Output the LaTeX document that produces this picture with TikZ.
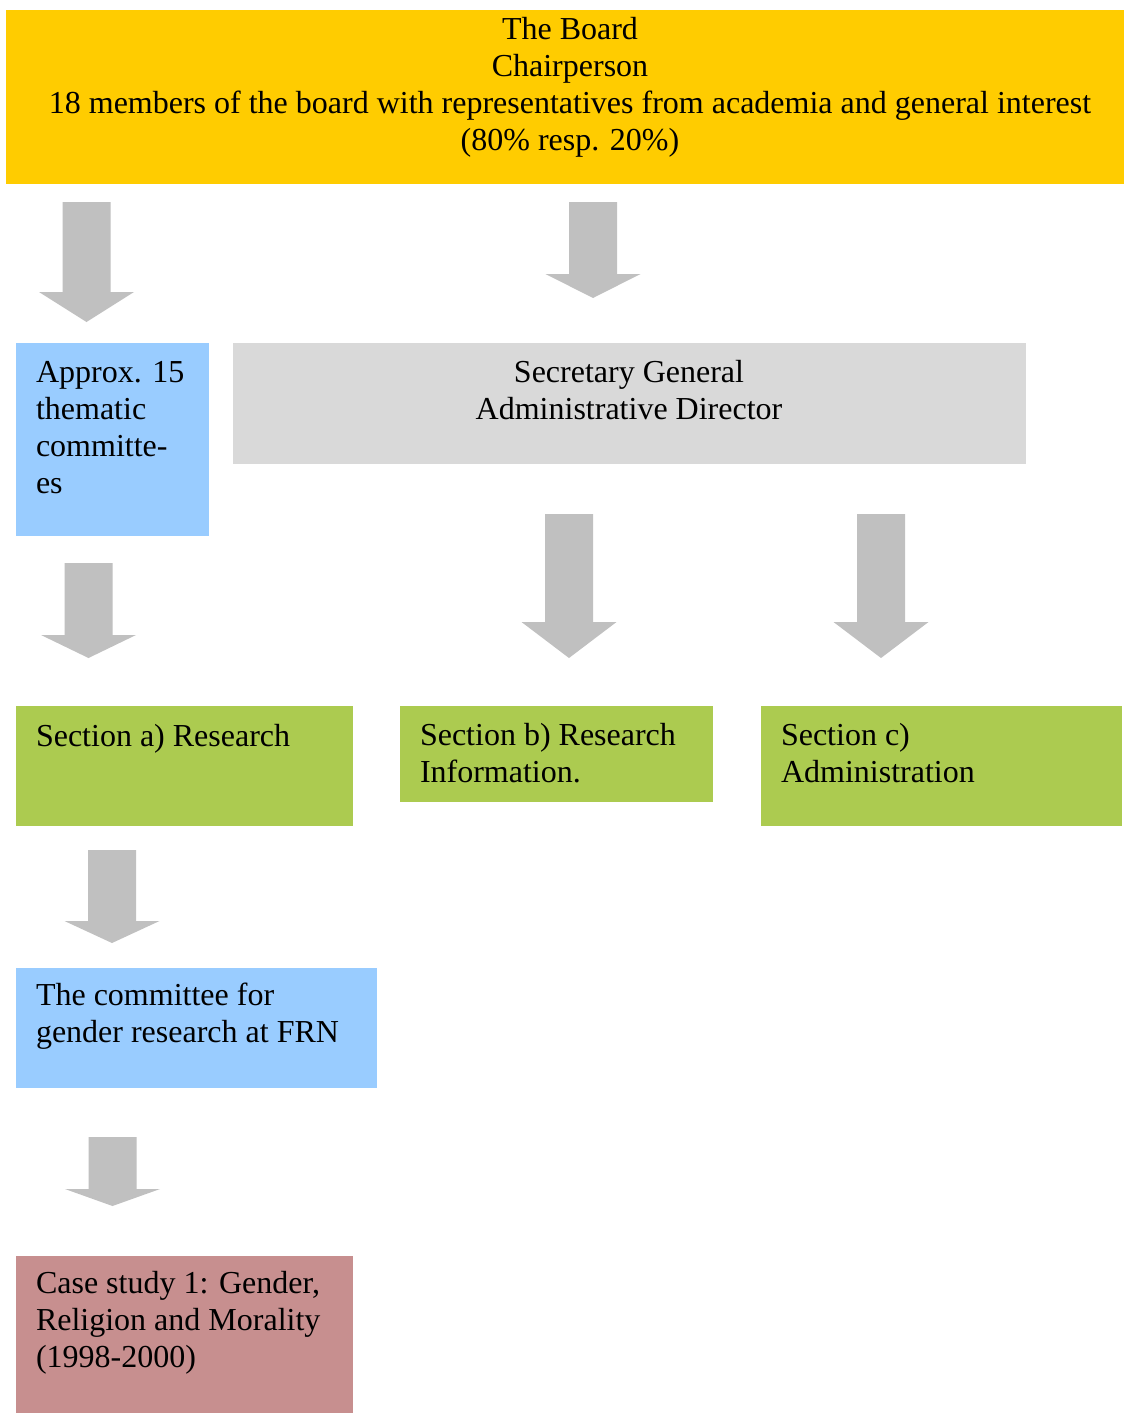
\documentclass[tikz,border=0pt]{standalone}
\usepackage{fontspec}
\setmainfont{Liberation Serif}
\definecolor{boardc}{HTML}{FFCC00}
\definecolor{bluec}{HTML}{99CCFF}
\definecolor{grayc}{HTML}{D9D9D9}
\definecolor{greenc}{HTML}{ACCB50}
\definecolor{pinkc}{HTML}{C78F8F}
\definecolor{arrowc}{HTML}{C0C0C0}
\newcommand\blockarrow[4]{%
  \fill[arrowc] (#1-24,#2) -- (#1+24,#2) -- (#1+24,#3) -- (#1+47.5,#3) -- (#1,#4)
    -- (#1-47.5,#3) -- (#1-24,#3) -- cycle;}
\begin{document}
\begin{tikzpicture}[x=1pt,y=-1pt,
  box/.style={draw=none,inner sep=0pt,outer sep=0pt,anchor=north west},
  lbl/.style={inner sep=0pt,outer sep=0pt,font=\fontsize{32}{37.2}\selectfont}]
\useasboundingbox[fill=white] (0,0) rectangle (1124,1413);
% boxes
\node[box,fill=boardc,minimum width=1118pt,minimum height=174pt] (board) at (6,10) {};
\node[box,fill=bluec,minimum width=193pt,minimum height=193pt] (thematic) at (16,343) {};
\node[box,fill=grayc,minimum width=793pt,minimum height=121pt] (secgen) at (233,343) {};
\node[box,fill=greenc,minimum width=337pt,minimum height=120pt] (seca) at (16,706) {};
\node[box,fill=greenc,minimum width=313pt,minimum height=96pt] (secb) at (400,706) {};
\node[box,fill=greenc,minimum width=361pt,minimum height=120pt] (secc) at (761,706) {};
\node[box,fill=bluec,minimum width=361pt,minimum height=120pt] (gender) at (16,968) {};
\node[box,fill=pinkc,minimum width=337pt,minimum height=160pt] (case) at (16,1256) {};
% texts (anchored at the baseline of their last line)
\node[lbl,anchor=base,align=center] (boardt) at (570,150.6)
  {The Board\\Chairperson\\18 members of the board with representatives from academia and general interest\\(80\% resp. 20\%)};
\node[lbl,anchor=base west,align=left] (thematict) at (36,493.6) {Approx. 15\\thematic\\committe-\\es};
\node[lbl,anchor=base,align=center] (secgent) at (629,419.2) {Secretary General\\Administrative Director};
\node[lbl,anchor=base west,align=left] (secat) at (36,746) {Section a) Research};
\node[lbl,anchor=base west,align=left] (secbt) at (420,782.2) {Section b) Research\\Information.};
\node[lbl,anchor=base west,align=left] (secct) at (781,782.2) {Section c)\\Administration};
\node[lbl,anchor=base west,align=left] (gendert) at (36,1042.2) {The committee for\\gender research at FRN};
\node[lbl,anchor=base west,align=left] (caset) at (36,1367.4) {Case study 1: Gender,\\Religion and Morality\\(1998-2000)};
% block arrows
\blockarrow{86.5}{202}{292}{322}
\blockarrow{593}{202}{274}{298}
\blockarrow{88.5}{563}{635}{658}
\blockarrow{569}{514}{622}{658}
\blockarrow{881}{514}{622}{658}
\blockarrow{112}{850}{921}{943}
\blockarrow{112.5}{1137}{1189}{1206}
\end{tikzpicture}
\end{document}
